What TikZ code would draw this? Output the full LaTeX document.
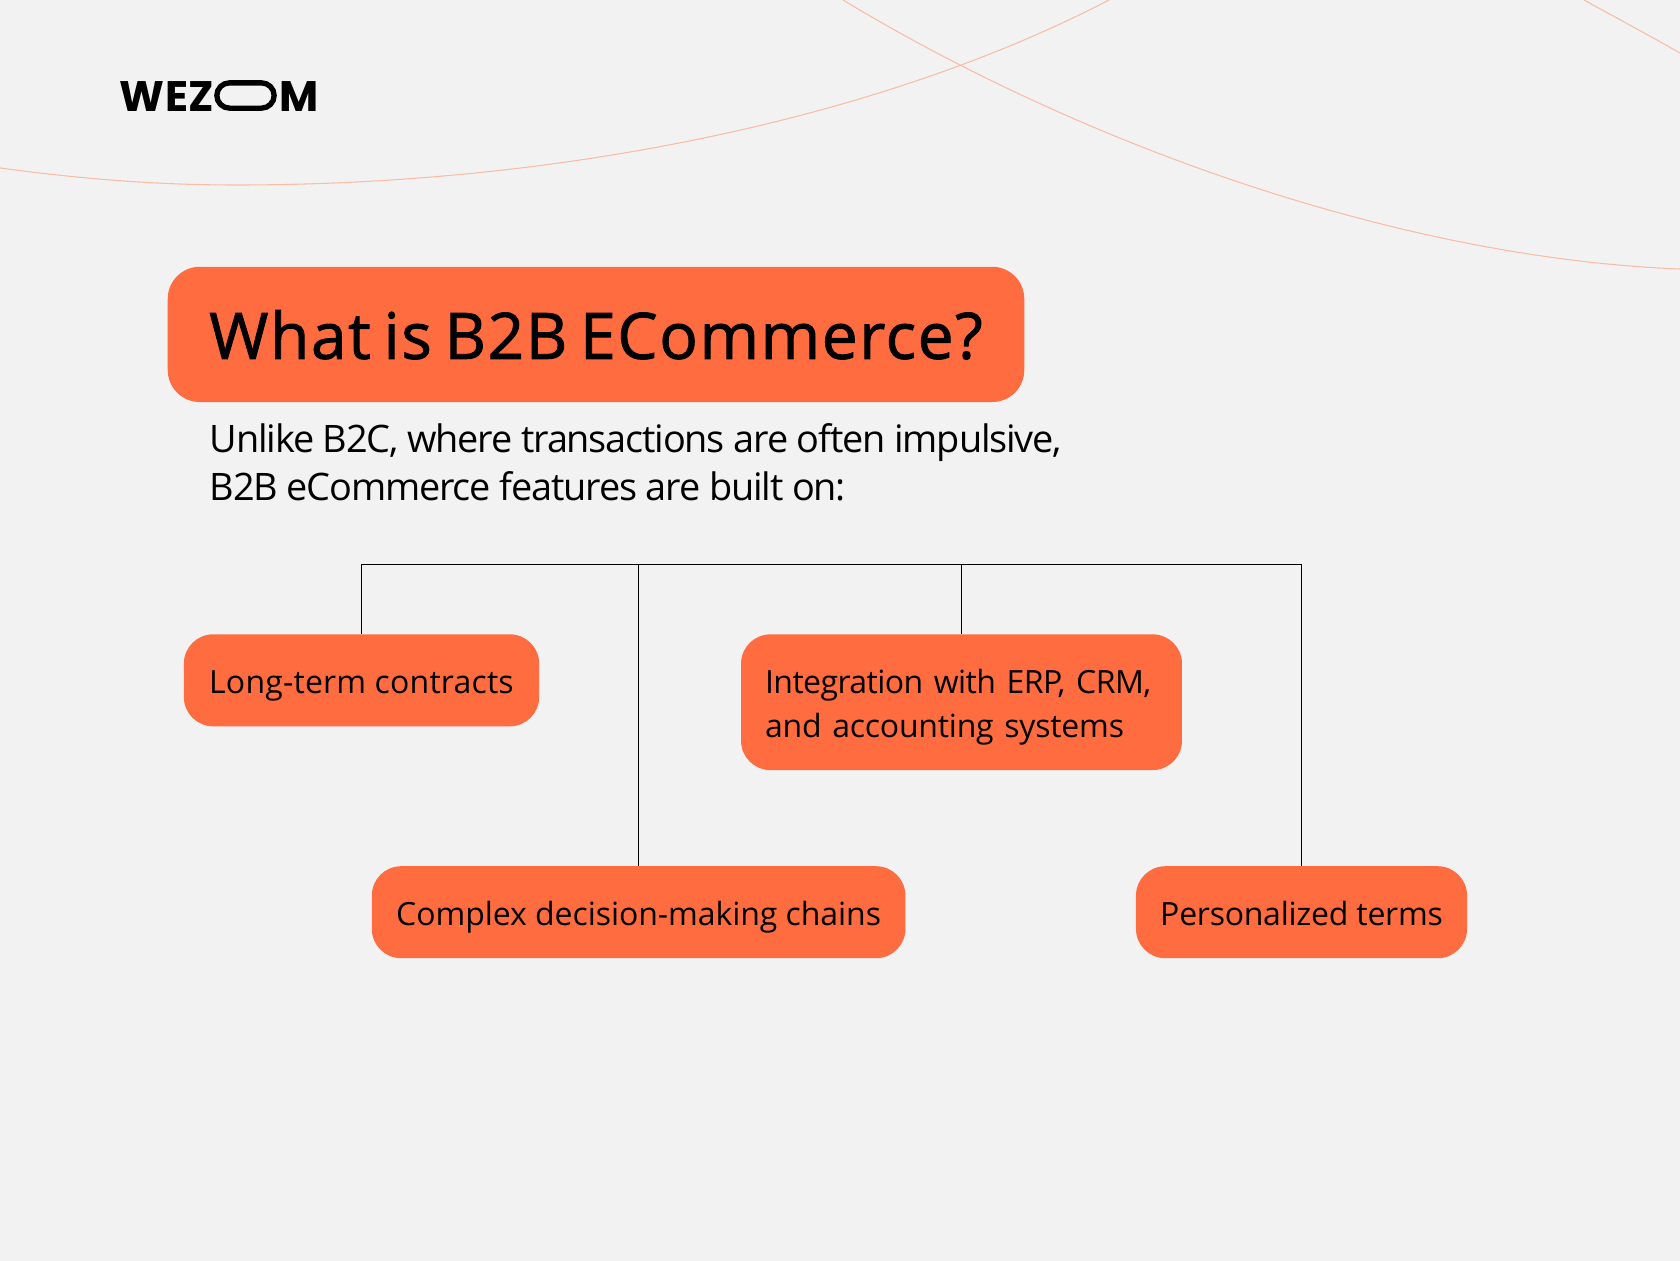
\documentclass[tikz,border=0pt]{standalone}
\usepackage{fontspec}
\setmainfont{Open Sans}
\newfontfamily\titlefont{Open Sans}[FakeBold=1.4,LetterSpace=2.5,WordSpace=0.7]
\newfontfamily\logofont{Poppins}[LetterSpace=1]
\definecolor{mybg}{HTML}{F2F2F2}
\definecolor{myorange}{HTML}{FF6C40}
\definecolor{myarc}{HTML}{F8BDA6}
\tikzset{
    featurebox/.style={fill=myorange, rounded corners=22pt, inner sep=0pt, minimum height=69pt, text depth=0pt, text height=20pt, align=left, font=\fontsize{24}{33}\selectfont\addfontfeatures{LetterSpace=#1}},
    featurebox/.default=-0.2,
    rail/.style={color=black, line width=0.75pt},
    arcline/.style={myarc, line width=0.8pt}
}
\begin{document}
\begin{tikzpicture}[x=0.75pt,y=-0.75pt]
    % page
    \useasboundingbox (0,0) rectangle (1680,1260);
    \fill[mybg] (-5,-5) rectangle (1685,1265);

    % thin curves at the top
    \draw[arcline] (0,168) .. controls (75,178) and (150,185) .. (236,185) .. controls (560,185) and (880,119) .. (1109,0);
    \draw[arcline] (843,0) .. controls (1083,145) and (1400,258) .. (1680,269);
    \draw[arcline] (1584,0) .. controls (1615,17) and (1650,36) .. (1680,53);

    % logo
    \node[anchor=base west, inner sep=0pt, font=\logofont\bfseries\fontsize{32}{32}\selectfont] (logowez) at (119.5,111) {WEZ};
    \node[draw, line width=4pt, rounded corners=9.5pt, inner sep=0pt, minimum width=43pt, minimum height=19pt] (logoo) at (245.5,95.5) {};
    \node[anchor=base west, inner sep=0pt, font=\logofont\bfseries\fontsize{32}{32}\selectfont] (logom) at (279.5,111) {M};

    % heading
    \node[fill=myorange, rounded corners=24pt, inner sep=0pt, minimum width=642.4pt, minimum height=101.4pt, text depth=0pt, text height=36.6pt, font=\titlefont\fontsize{48}{50}\selectfont] (title) at (596,334.4) {What is B2B ECommerce?};
    \node[anchor=base west, inner sep=0pt, align=left, font=\fontsize{28.4}{36}\selectfont\addfontfeatures{LetterSpace=-3.1}] (intro) at (209.5,500) {Unlike B2C, where transactions are often impulsive,\\B2B eCommerce features are built on:};

    % boxes
    \node[featurebox=0.6, minimum width=266.5pt] (contracts) at (361.5,680.3) {Long-term contracts};
    \node[featurebox, minimum width=400.2pt] (chains) at (638.6,912.2) {Complex decision-making chains};
    \node[featurebox=-1.8, inner xsep=18pt, text width=294.7pt, minimum height=101.8pt, text depth=33.2pt] (systems) at (961.5,702.2) {Integration with ERP, CRM,\\{\addfontfeatures{LetterSpace=-0.7}and accounting systems}};
    \node[featurebox=-0.8, minimum width=248.3pt] (terms) at (1301.5,912.2) {Personalized terms};

    % connectors
    \coordinate (railtop) at (638.6,564);
    \draw[rail] (contracts.north) |- (railtop -| terms.north) -- (terms.north);
    \draw[rail] (chains.north) -- (railtop);
    \draw[rail] (systems.north) -- (systems.north |- railtop);
\end{tikzpicture}
\end{document}
